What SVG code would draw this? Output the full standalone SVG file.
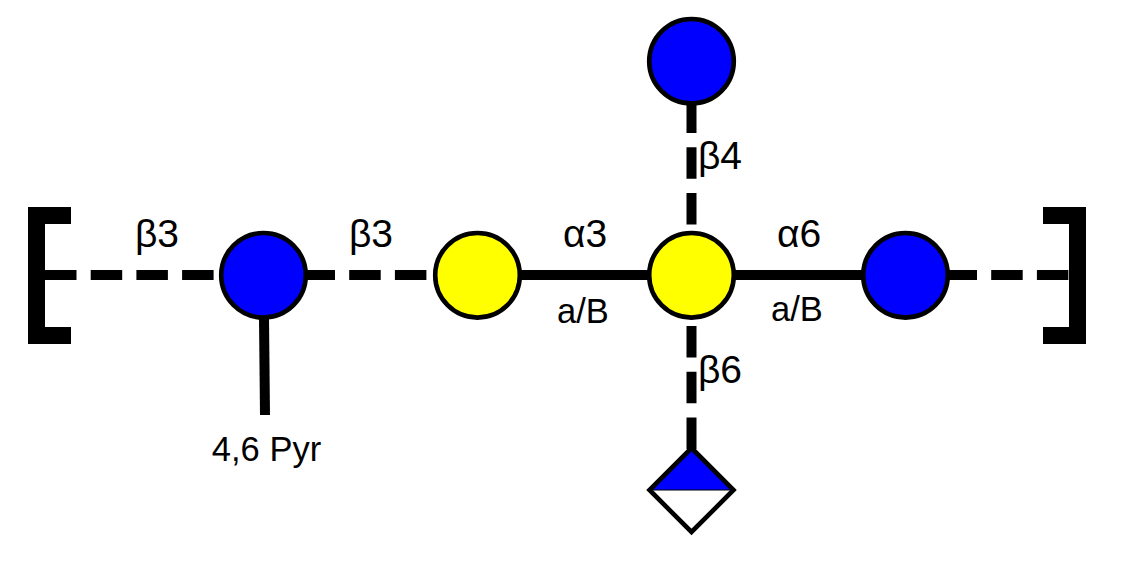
<svg xmlns="http://www.w3.org/2000/svg" width="1125" height="587" viewBox="0 0 1125 587">
  <style>
    .bond { stroke: #000; stroke-width: 10; fill: none; }
    .dash { stroke-dasharray: 31.5 14.2; }
    .dash-short { stroke-dashoffset: 3.500; }
    .sym { stroke: #000; stroke-width: 4.600; }
    .gal { fill: #ffff00; }
    .glc { fill: #0000ff; }
    .label { font-family: "Liberation Sans", Arial, sans-serif; fill: #000; text-anchor: middle; }
    .link { font-size: 39px; }
    .small { font-size: 34.500px; }
  </style>
  <rect width="1125" height="587" fill="#fff"/>
  <g id="connectors">
    <path class="bond dash" d="M45 275H219"/>
    <path class="bond dash dash-short" d="M307 275H433"/>
    <path class="bond" d="M521 275H648"/>
    <path class="bond" d="M735 275H862"/>
    <path class="bond dash dash-short" d="M949 275H1069"/>
    <path class="bond dash dash-short" d="M691.500 105V232"/>
    <path class="bond dash" d="M691.500 326V450"/>
    <path class="bond" d="M264 318L265 415"/>
  </g>
  <g id="bracket-left"><path d="M28 207H71V224H45V327H71V344H28Z"/></g>
  <g id="bracket-right"><path d="M1086 207H1043V224H1069V327H1043V344H1086Z"/></g>
  <g id="node-glc-left"><circle class="sym glc" cx="263.500" cy="275.300" r="42.300"/></g>
  <g id="node-gal-left"><circle class="sym gal" cx="477.500" cy="275.300" r="42.300"/></g>
  <g id="node-gal-center"><circle class="sym gal" cx="691.500" cy="275.300" r="42.300"/></g>
  <g id="node-glc-right"><circle class="sym glc" cx="905.500" cy="275.300" r="42.300"/></g>
  <g id="node-glc-top"><circle class="sym glc" cx="691.500" cy="61.300" r="42.300"/></g>
  <g id="node-diamond">
    <path class="glc" d="M691.500 448L733.500 490H649.500Z"/>
    <path d="M691.500 448L733.500 490L691.500 532L649.500 490Z" class="sym" fill="none"/>
    <path d="M649.500 490H733.500" stroke="#000" stroke-width="1"/>
  </g>
  <g id="labels">
    <text class="label link" x="157" y="247">β3</text>
    <text class="label link" x="371" y="247">β3</text>
    <text class="label link" x="585" y="247">α3</text>
    <text class="label link" x="799" y="247">α6</text>
    <text class="label link" x="720" y="169">β4</text>
    <text class="label link" x="720" y="383">β6</text>
    <text class="label small" x="583" y="323">a/B</text>
    <text class="label small" x="797" y="321">a/B</text>
    <text class="label small" x="266.500" y="461">4,6 Pyr</text>
  </g>
</svg>
